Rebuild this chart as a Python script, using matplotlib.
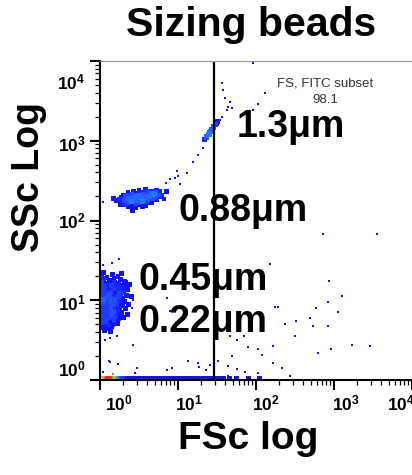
import numpy as np
import matplotlib.pyplot as plt
import matplotlib.transforms as mtransforms
from matplotlib.colors import LinearSegmentedColormap
from matplotlib.ticker import LogLocator, NullFormatter

plt.rcParams['font.family'] = ['Liberation Sans', 'DejaVu Sans']
plt.rcParams['mathtext.fontset'] = 'custom'
plt.rcParams['mathtext.rm'] = 'Liberation Sans:bold'
plt.rcParams['mathtext.it'] = 'Liberation Sans:bold'
plt.rcParams['mathtext.bf'] = 'Liberation Sans:bold'

# events as (log10 FSc, log10 SSc)
beads_022_045 = [
    (0.02, 1.31), (0.09, 1.29), (0.16, 1.32), (0.23, 1.30),
    (0.00, 1.26), (0.05, 1.27), (0.12, 1.25), (0.18, 1.27), (0.26, 1.26), (0.31, 1.24),
    (0.02, 1.22), (0.07, 1.21), (0.13, 1.23), (0.19, 1.22), (0.24, 1.21), (0.33, 1.22),
    (0.00, 1.18), (0.04, 1.17), (0.10, 1.19), (0.15, 1.18), (0.21, 1.17), (0.27, 1.19), (0.31, 1.16),
    (0.02, 1.14), (0.06, 1.13), (0.12, 1.15), (0.17, 1.14), (0.23, 1.13), (0.28, 1.15), (0.36, 1.13),
    (0.00, 1.10), (0.05, 1.11), (0.09, 1.09), (0.14, 1.10), (0.20, 1.11), (0.25, 1.09), (0.30, 1.10),
    (0.03, 1.06), (0.08, 1.05), (0.12, 1.07), (0.16, 1.06), (0.22, 1.05), (0.27, 1.07), (0.34, 1.06),
    (0.01, 1.02), (0.05, 1.01), (0.10, 1.03), (0.15, 1.02), (0.19, 1.01), (0.24, 1.03), (0.29, 1.02),
    (0.00, 0.98), (0.04, 0.97), (0.08, 0.99), (0.13, 0.98), (0.18, 0.97), (0.23, 0.99), (0.31, 0.98),
    (0.02, 0.94), (0.06, 0.95), (0.11, 0.93), (0.16, 0.94), (0.21, 0.95), (0.26, 0.93), (0.29, 0.96),
    (0.00, 0.90), (0.05, 0.89), (0.09, 0.91), (0.14, 0.90), (0.19, 0.89), (0.25, 0.91), (0.33, 0.90),
    (0.03, 0.86), (0.07, 0.87), (0.12, 0.85), (0.17, 0.86), (0.22, 0.87), (0.28, 0.85),
    (0.01, 0.82), (0.06, 0.81), (0.10, 0.83), (0.15, 0.82), (0.20, 0.81), (0.26, 0.83),
    (0.00, 0.78), (0.04, 0.79), (0.09, 0.77), (0.14, 0.78), (0.19, 0.79), (0.24, 0.77), (0.30, 0.78),
    (0.02, 0.74), (0.07, 0.73), (0.12, 0.75), (0.18, 0.74), (0.23, 0.73),
    (0.01, 0.70), (0.05, 0.71), (0.11, 0.69), (0.16, 0.70), (0.22, 0.71),
    (0.03, 0.66), (0.09, 0.65), (0.15, 0.67), (0.06, 0.62), (0.13, 0.61),
    (0.38, 1.20), (0.40, 1.05), (0.37, 0.95), (0.35, 0.82), (0.28, 1.34), (0.05, 1.35),
]

beads_088 = [
    (0.50, 2.38), (0.58, 2.39), (0.66, 2.37), (0.72, 2.38),
    (0.36, 2.35), (0.43, 2.36), (0.49, 2.34), (0.55, 2.35), (0.61, 2.36), (0.66, 2.34), (0.71, 2.35), (0.76, 2.36),
    (0.30, 2.32), (0.36, 2.31), (0.41, 2.33), (0.46, 2.32), (0.51, 2.31), (0.56, 2.33), (0.61, 2.32),
    (0.65, 2.31), (0.70, 2.33), (0.75, 2.32), (0.79, 2.31),
    (0.27, 2.29), (0.33, 2.30), (0.38, 2.28), (0.43, 2.29), (0.48, 2.30), (0.53, 2.28), (0.58, 2.29),
    (0.63, 2.30), (0.68, 2.28), (0.73, 2.29), (0.77, 2.30),
    (0.25, 2.26), (0.31, 2.25), (0.36, 2.27), (0.41, 2.26), (0.46, 2.25), (0.51, 2.27), (0.56, 2.26),
    (0.61, 2.25), (0.66, 2.27), (0.72, 2.26),
    (0.29, 2.23), (0.35, 2.22), (0.40, 2.24), (0.45, 2.23), (0.50, 2.22), (0.55, 2.24), (0.60, 2.23), (0.66, 2.22),
    (0.33, 2.20), (0.39, 2.19), (0.45, 2.21), (0.52, 2.20), (0.58, 2.19),
    (0.37, 2.17), (0.46, 2.16), (0.55, 2.17), (0.42, 2.13),
    (0.17, 2.28), (0.21, 2.25), (0.26, 2.20), (0.82, 2.27), (0.85, 2.36),
]

beads_13 = [
    (1.34, 3.02), (1.36, 3.04), (1.37, 3.06), (1.39, 3.08), (1.40, 3.10), (1.42, 3.12),
    (1.43, 3.14), (1.45, 3.16), (1.46, 3.18), (1.48, 3.20), (1.49, 3.22), (1.51, 3.24),
    (1.37, 3.04), (1.40, 3.08), (1.43, 3.12), (1.46, 3.16), (1.36, 3.06),
]

# events piled up at the SSc floor
floor_fsc = [
    0.00, 0.01, 0.02, 0.03, 0.04, 0.05, 0.06, 0.07, 0.08, 0.09, 0.10, 0.11, 0.12, 0.13,
    0.14, 0.15, 0.16, 0.17, 0.18, 0.19, 0.20, 0.22, 0.24, 0.26, 0.28, 0.30,
    0.05, 0.06, 0.07, 0.08, 0.09, 0.10, 0.11, 0.12, 0.13, 0.14, 0.15, 0.16,
    0.07, 0.08, 0.09, 0.10, 0.11, 0.12, 0.13, 0.14,
    0.33, 0.36, 0.39, 0.42, 0.45, 0.48, 0.52, 0.56, 0.60, 0.65, 0.70, 0.75, 0.80,
    0.85, 0.90, 0.95, 1.00, 1.05, 1.10, 1.15, 1.20, 1.25, 1.30, 1.35, 1.40, 1.45,
    1.52, 1.58, 1.66, 1.75, 1.90, 2.05,
]
floor_ssc = 0.025

scattered = [
    (0.846, 2.470), (0.897, 2.520), (0.962, 2.533), (1.000, 2.558), (1.026, 2.458),
    (1.115, 2.596), (0.987, 2.621), (1.192, 2.734), (1.256, 2.821), (1.321, 2.909),
    (1.962, 3.975), (1.564, 3.724), (1.577, 3.636), (1.603, 3.536), (1.667, 3.486),
    (1.641, 3.423), (1.628, 3.386), (1.692, 3.411), (2.115, 3.599), (2.026, 3.461),
    (1.962, 3.386), (1.564, 3.298), (1.538, 3.260),
    (2.859, 1.831), (3.551, 1.831), (2.179, 1.455), (2.936, 1.241), (3.103, 1.053),
    (2.923, 0.978), (3.051, 0.853), (2.769, 0.903), (2.244, 0.915), (2.282, 0.915),
    (2.513, 0.740), (2.372, 0.702), (2.692, 0.777), (2.731, 0.677), (2.923, 0.677),
    (2.500, 0.552), (2.218, 0.426), (1.897, 0.414), (2.026, 0.389), (2.077, 0.313),
    (2.795, 0.339), (2.962, 0.389), (3.231, 0.439), (3.462, 0.426), (1.667, 0.552),
    (1.756, 0.502), (1.846, 0.552), (1.692, 0.301), (1.513, 0.238), (1.641, 0.176),
    (1.756, 0.138), (1.859, 0.100), (2.026, 0.088), (2.218, 0.213), (2.333, 0.150),
    (2.436, 0.050), (1.641, 0.050), (1.410, 0.188), (1.256, 0.213), (1.269, 0.163),
    (1.128, 0.238), (1.359, 0.125), (1.282, 0.038),
    (0.859, 1.028), (0.897, 0.865), (0.423, 0.439), (0.474, 0.150), (0.449, 0.088),
    (0.859, 0.125), (0.923, 0.150), (0.423, 1.003), (0.410, 0.903), (0.038, 1.442),
    (0.154, 1.467), (0.244, 1.517), (0.064, 0.502), (0.128, 0.527), (0.218, 0.552),
    (0.115, 0.238), (0.038, 0.100), (0.167, 0.075), (0.256, 0.038), (0.423, 0.025),
    (0.038, 2.232), (0.192, 2.245), (0.231, 0.201), (0.128, 0.226),
]

gate_fsc = 10 ** 1.46
decades = [1, 10, 100, 1000, 10000]
decade_labels = [r'$10^{0}$', r'$10^{1}$', r'$10^{2}$', r'$10^{3}$', r'$10^{4}$']

# ---- assemble events and colour by local density ----
dense = np.array(beads_022_045 + beads_088 + beads_13
                 + [(x, floor_ssc) for x in floor_fsc])
sparse = np.array(scattered)
events = np.vstack([dense, sparse])
sizes = np.r_[np.full(len(dense), 12.0), np.full(len(sparse), 3.5)]

dx = events[:, None, 0] - events[None, :, 0]
dy = events[:, None, 1] - events[None, :, 1]
density = (np.hypot(dx, dy) < 0.06).sum(axis=1)
order = np.argsort(density)

cmap = LinearSegmentedColormap.from_list('flow', [
    (0.0, '#1010ff'), (0.1, '#1010ff'), (0.25, '#2a6aff'), (0.4, '#00c0f0'),
    (0.55, '#10d070'), (0.7, '#b0e010'), (0.85, '#ffa000'), (1.0, '#ff2a00')])

fig = plt.figure(figsize=(4.12, 4.75), dpi=100)
ax = fig.add_axes([100 / 412, 95 / 475, 312 / 412, 319 / 475])
ax.set_xscale('log')
ax.set_yscale('log')

ax.scatter(10 ** events[order, 0], 10 ** events[order, 1], c=density[order],
           cmap=cmap, vmin=1, vmax=density.max(), s=sizes[order],
           marker='s', linewidths=0)

ax.axvline(gate_fsc, color='black', lw=1.6)

ax.set_xlim(1, 1e4)
ax.set_ylim(1, 1e4)

ax.set_xticks(decades, labels=decade_labels)
ax.set_yticks(decades, labels=decade_labels)
ax.xaxis.set_minor_locator(LogLocator(base=10, subs=np.arange(2, 10), numticks=20))
ax.yaxis.set_minor_locator(LogLocator(base=10, subs=np.arange(2, 10), numticks=20))
ax.xaxis.set_minor_formatter(NullFormatter())
ax.yaxis.set_minor_formatter(NullFormatter())
ax.tick_params(which='major', direction='out', length=7, width=1.5, labelsize=12.5)
ax.tick_params(which='minor', direction='out', length=3.5, width=0.9)
ax.tick_params(axis='x', which='major', pad=3)
ax.tick_params(axis='y', which='major', pad=3.5)

# nudge the decade labels to where the original software put them
x_shift = [19, 11, 10, 12, -11]
for lab, sh in zip(ax.get_xticklabels(), x_shift):
    lab.set_transform(lab.get_transform()
                      + mtransforms.ScaledTranslation(sh / 100, 0, fig.dpi_scale_trans))
y_shift = [11, -3, -1, -3.5, -21]
for lab, sh in zip(ax.get_yticklabels(), y_shift):
    lab.set_va('center')
    lab.set_transform(lab.get_transform()
                      + mtransforms.ScaledTranslation(0, sh / 100, fig.dpi_scale_trans))

ax.spines['right'].set_visible(False)
ax.spines['top'].set_color('#999999')
ax.spines['top'].set_linewidth(0.8)
ax.spines['left'].set_linewidth(1.5)
ax.spines['bottom'].set_linewidth(1.5)

ax.set_xlabel('FSc log', fontsize=28, fontweight='bold')
ax.xaxis.set_label_coords(148 / 312, -69 / 319)
ax.xaxis.label.set_va('baseline')
ax.set_ylabel('SSc Log', fontsize=27, fontweight='bold', va='center')
ax.yaxis.set_label_coords(-71 / 312, 203 / 319)

fig.text(251.5 / 412, 1 - 36 / 475, 'Sizing beads', fontsize=29.5, fontweight='bold',
         ha='center', va='baseline')

fig.text(325 / 412, 1 - 87 / 475, 'FS, FITC subset', fontsize=9.5, color='#333333',
         ha='center', va='baseline')
fig.text(325 / 412, 1 - 103 / 475, '98.1', fontsize=9.5, color='#333333',
         ha='center', va='baseline')

for txt, (px, py) in [('1.3μm', (237, 137)), ('0.88μm', (178, 221)),
                      ('0.45μm', (138, 290)), ('0.22μm', (138, 332))]:
    fig.text(px / 412, 1 - py / 475, txt, fontsize=27, fontweight='bold',
             ha='left', va='baseline')

fig.savefig('out.png', dpi=100)
